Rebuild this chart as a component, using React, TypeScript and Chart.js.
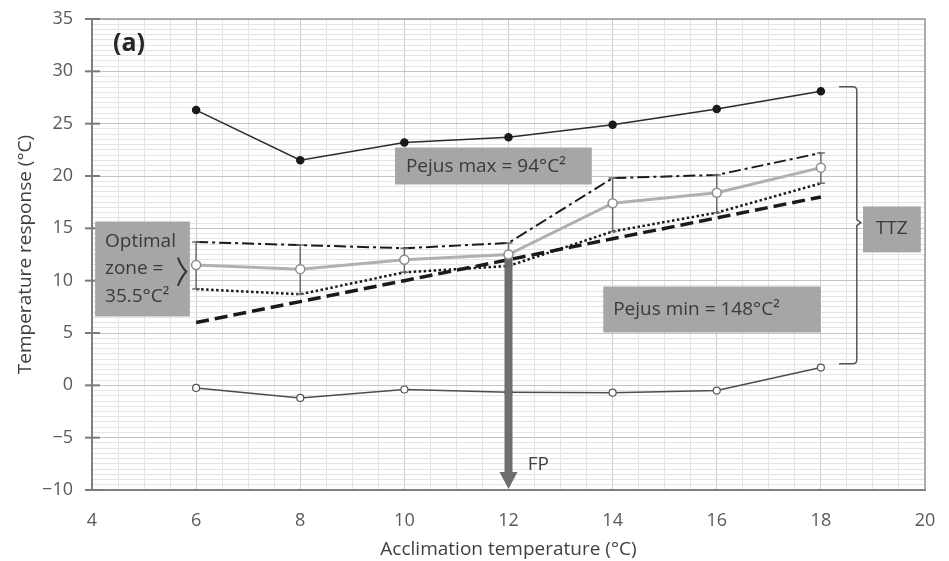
import React, { useEffect, useRef } from 'react';
import { Chart, registerables } from 'chart.js';

Chart.register(...registerables);

// ---------- data ----------
const acclimation = [6, 8, 10, 12, 14, 16, 18];
const ctMax = [26.3, 21.5, 23.2, 23.7, 24.9, 26.4, 28.1];
const ctMin = [-0.25, -1.2, -0.4, -0.65, -0.7, -0.5, 1.7];
const prefMean = [11.5, 11.1, 12.0, 12.5, 17.4, 18.4, 20.8];
const prefUpper = [13.7, 13.4, 13.1, 13.6, 19.8, 20.1, 22.2];
const prefLower = [9.2, 8.7, 10.8, 11.4, 14.7, 16.5, 19.3];
const oneToOne = [6, 8, 10, 12, 14, 16, 18];

const xTickValues = [4, 6, 8, 10, 12, 14, 16, 18, 20];
const xTickLabels = ['4', '6', '8', '10', '12', '14', '16', '18', '20'];
const yTickValues = [-10, -5, 0, 5, 10, 15, 20, 25, 30, 35];
const yTickLabels = ['\u221210', '\u22125', '0', '5', '10', '15', '20', '25', '30', '35'];

const xTitle = 'Acclimation temperature (\u00B0C)';
const yTitle = 'Temperature response (\u00B0C)';
const panelLabel = '(a)';
const optimalLines = ['Optimal', 'zone =', '35.5\u00B0C\u00B2'];
const pejusMaxText = 'Pejus max = 94\u00B0C\u00B2';
const pejusMinText = 'Pejus min = 148\u00B0C\u00B2';
const ttzText = 'TTZ';
const fpText = 'FP';
const fpAcclimation = 12;

const FONT = '"Open Sans", "DejaVu Sans", sans-serif';

const pts = (ys: number[]) => acclimation.map((x, i) => ({ x, y: ys[i] }));

const overlay = {
  id: 'overlay',
  beforeDatasetDraw(chart: any, args: any) {
    if (args.index !== 2) return;
    const ctx = chart.ctx;
    const xs = chart.scales.x;
    const ys = chart.scales.y;
    // FP arrow
    const fi = acclimation.indexOf(fpAcclimation);
    const ax = xs.getPixelForValue(fpAcclimation);
    const aTop = ys.getPixelForValue(prefMean[fi]);
    const aBot = ys.getPixelForValue(ys.min);
    ctx.save();
    ctx.fillStyle = '#6e6e6e';
    ctx.fillRect(ax - 4, aTop, 8, aBot - 17 - aTop);
    ctx.beginPath();
    ctx.moveTo(ax - 9, aBot - 18);
    ctx.lineTo(ax + 9, aBot - 18);
    ctx.lineTo(ax, aBot - 1);
    ctx.closePath();
    ctx.fill();
    // error bars
    ctx.strokeStyle = '#6b6b6b';
    ctx.lineWidth = 1.5;
    acclimation.forEach((x, i) => {
      const px = xs.getPixelForValue(x);
      const yu = ys.getPixelForValue(prefUpper[i]);
      const yl = ys.getPixelForValue(prefLower[i]);
      ctx.beginPath();
      ctx.moveTo(px, yu);
      ctx.lineTo(px, yl);
      ctx.moveTo(px - 4, yu);
      ctx.lineTo(px + 4, yu);
      ctx.moveTo(px - 4, yl);
      ctx.lineTo(px + 4, yl);
      ctx.stroke();
    });
    ctx.restore();
  },
  afterDatasetsDraw(chart: any) {
    const ctx = chart.ctx;
    const xs = chart.scales.x;
    const ys = chart.scales.y;
    const X = (v: number) => xs.getPixelForValue(v);
    const Y = (v: number) => ys.getPixelForValue(v);
    const { left, right, top, bottom } = chart.chartArea;
    ctx.save();
    // frame top/right
    ctx.strokeStyle = '#9a9a9a';
    ctx.lineWidth = 1.5;
    ctx.beginPath();
    ctx.moveTo(left, top);
    ctx.lineTo(right, top);
    ctx.lineTo(right, bottom);
    ctx.stroke();
    // y tick marks crossing axis
    ctx.strokeStyle = '#7a7a7a';
    ctx.lineWidth = 2;
    yTickValues.forEach((v) => {
      const py = Y(v);
      ctx.beginPath();
      ctx.moveTo(left - 7, py);
      ctx.lineTo(left + 8, py);
      ctx.stroke();
    });

    const box = (x0: number, x1: number, y0: number, y1: number) => {
      ctx.fillStyle = '#a6a6a6';
      ctx.fillRect(X(x0), Y(y0), X(x1) - X(x0), Y(y1) - Y(y0));
    };
    ctx.font = `19px ${FONT}`;
    ctx.textBaseline = 'middle';

    // Optimal zone
    box(4.06, 5.88, 15.65, 6.58);
    ctx.fillStyle = '#3a3a3a';
    ctx.textAlign = 'left';
    [13.72, 11.14, 8.47].forEach((yv, i) => ctx.fillText(optimalLines[i], X(4.25), Y(yv)));
    // brace
    ctx.strokeStyle = '#333';
    ctx.lineWidth = 2;
    ctx.beginPath();
    ctx.moveTo(X(5.65), Y(12.2));
    ctx.quadraticCurveTo(X(5.72), Y(11.3), X(5.81), Y(10.85));
    ctx.quadraticCurveTo(X(5.72), Y(10.4), X(5.65), Y(9.5));
    ctx.stroke();

    // Pejus max
    box(9.82, 13.6, 22.72, 19.19);
    ctx.fillStyle = '#3a3a3a';
    ctx.fillText(pejusMaxText, X(10.03), Y(20.9));
    // Pejus min
    box(13.82, 18.0, 9.44, 5.05);
    ctx.fillStyle = '#3a3a3a';
    ctx.fillText(pejusMinText, X(14.01), Y(7.25));
    // TTZ
    box(18.81, 19.92, 17.09, 12.7);
    ctx.fillStyle = '#3a3a3a';
    ctx.textAlign = 'center';
    ctx.fillText(ttzText, X(19.36), Y(14.95));

    // TTZ bracket
    const bx0 = X(18.35), bx1 = X(18.69), by0 = Y(28.53), by1 = Y(2.07), bym = Y(15.54);
    ctx.strokeStyle = '#555';
    ctx.lineWidth = 1.5;
    ctx.beginPath();
    ctx.moveTo(bx0, by0);
    ctx.lineTo(bx1 - 4, by0);
    ctx.quadraticCurveTo(bx1, by0, bx1, by0 + 4);
    ctx.lineTo(bx1, bym - 3);
    ctx.lineTo(bx1 + 4, bym);
    ctx.lineTo(bx1, bym + 3);
    ctx.lineTo(bx1, by1 - 4);
    ctx.quadraticCurveTo(bx1, by1, bx1 - 4, by1);
    ctx.lineTo(bx0, by1);
    ctx.stroke();

    // FP label
    ctx.fillStyle = '#404040';
    ctx.textAlign = 'left';
    ctx.fillText(fpText, X(12.37), Y(-7.57));

    // panel label
    ctx.font = `bold 25px ${FONT}`;
    ctx.fillStyle = '#262626';
    ctx.textAlign = 'center';
    ctx.fillText(panelLabel, X(4.71), Y(32.6));
    ctx.restore();
  },
};

export default function App() {
  const ref = useRef<HTMLCanvasElement>(null);
  useEffect(() => {
    if (!ref.current) return;
    const chart = new Chart(ref.current, {
      type: 'line',
      data: {
        datasets: [
          {
            data: pts(ctMax),
            borderColor: '#2b2b2b',
            borderWidth: 1.5,
            pointRadius: 3.5,
            pointBackgroundColor: '#1a1a1a',
            pointBorderColor: '#1a1a1a',
            order: 1,
          },
          {
            data: pts(ctMin),
            borderColor: '#4d4d4d',
            borderWidth: 1.5,
            pointRadius: 3.5,
            pointBackgroundColor: '#ffffff',
            pointBorderColor: '#555555',
            pointBorderWidth: 1.2,
            order: 7,
          },
          {
            data: pts(prefMean),
            borderColor: '#b0b0b0',
            borderWidth: 3,
            pointRadius: 4.5,
            pointBackgroundColor: '#ffffff',
            pointBorderColor: '#8c8c8c',
            pointBorderWidth: 1.5,
            order: 3,
          },
          {
            data: pts(prefUpper),
            borderColor: '#1a1a1a',
            borderWidth: 2,
            borderDash: [12, 4, 3, 4],
            pointRadius: 0,
            order: 4,
          },
          {
            data: pts(prefLower),
            borderColor: '#1a1a1a',
            borderWidth: 2.5,
            borderDash: [2.5, 2.5],
            pointRadius: 0,
            order: 5,
          },
          {
            data: pts(oneToOne),
            borderColor: '#1a1a1a',
            borderWidth: 3.5,
            borderDash: [13, 6],
            pointRadius: 0,
            order: 6,
          },
        ],
      },
      options: {
        responsive: false,
        animation: false,
        layout: { padding: { top: 19, right: 24, left: 0, bottom: 0 } },
        plugins: { legend: { display: false }, tooltip: { enabled: false } },
        scales: {
          x: {
            type: 'linear',
            min: 4,
            max: 20,
            afterFit: (s: any) => {
              s.height = 71;
            },
            ticks: {
              stepSize: 0.5,
              maxTicksLimit: 1000,
              autoSkip: false,
              maxRotation: 0,
              padding: 3,
              color: '#595959',
              font: { family: FONT, size: 18 },
              callback: (v: any) => {
                const i = xTickValues.indexOf(Number(v));
                return i >= 0 ? xTickLabels[i] : '';
              },
            },
            grid: {
              drawTicks: true,
              tickLength: 17,
              tickColor: 'rgba(0,0,0,0)',
              lineWidth: 1,
              color: (c: any) => {
                const v = c.tick ? c.tick.value : 0;
                return Math.abs(v % 2) < 1e-9 ? '#cccccc' : '#e4e4e4';
              },
            },
            border: { display: true, color: '#808080', width: 2 },
            title: {
              display: true,
              text: xTitle,
              color: '#404040',
              font: { family: FONT, size: 19 },
              padding: { top: 0, bottom: 0 },
            },
          },
          y: {
            type: 'linear',
            min: -10,
            max: 35,
            afterFit: (s: any) => {
              s.width = 92;
            },
            ticks: {
              stepSize: 0.5,
              maxTicksLimit: 1000,
              autoSkip: false,
              padding: 2,
              color: '#595959',
              font: { family: FONT, size: 18 },
              callback: (v: any) => {
                const i = yTickValues.indexOf(Number(v));
                return i >= 0 ? yTickLabels[i] : '';
              },
            },
            grid: {
              drawTicks: true,
              tickLength: 17,
              tickColor: 'rgba(0,0,0,0)',
              lineWidth: 1,
              color: (c: any) => {
                const v = c.tick ? c.tick.value : 0;
                return Math.abs(v % 5) < 1e-9 ? '#c4c4c4' : '#e4e4e4';
              },
            },
            border: { display: true, color: '#808080', width: 2 },
            title: {
              display: true,
              text: yTitle,
              color: '#404040',
              font: { family: FONT, size: 19 },
              padding: { top: 14, bottom: 0 },
            },
          },
        },
      },
      plugins: [overlay],
    } as any);
    return () => chart.destroy();
  }, []);
  return (
    <div style={{ position: 'fixed', left: 0, top: 0, width: 949, height: 561, background: '#ffffff' }}>
      <canvas ref={ref} width={949} height={561} style={{ display: 'block', width: 949, height: 561 }} />
    </div>
  );
}
